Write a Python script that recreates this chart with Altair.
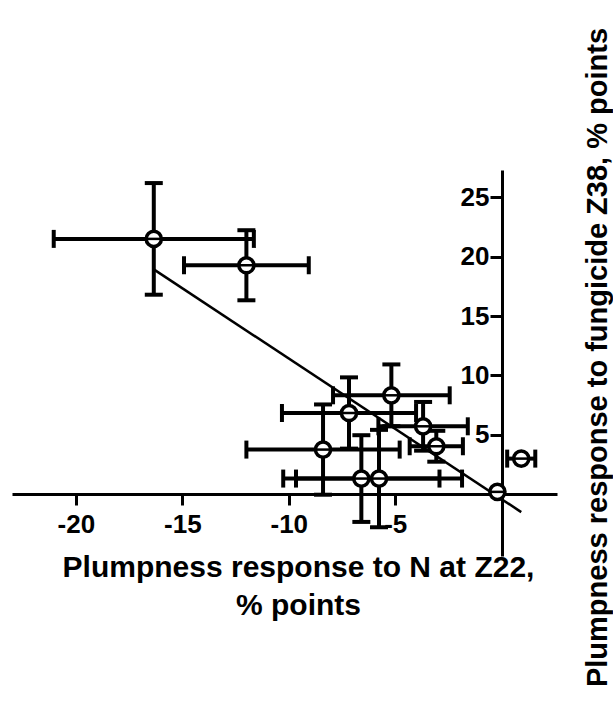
import altair as alt
import pandas as pd

# values
x_vals = [-16.34, -11.99, -5.18, -7.17, -3.69, -3.07, -8.39, -6.59, -5.76, -0.2, 0.92]
y_vals = [21.5, 19.28, 8.33, 6.84, 5.72, 4.04, 3.76, 1.32, 1.32, 0.2, 3.0]
x_err = [4.7, 2.93, 2.74, 3.15, 2.1, 1.25, 3.6, 3.67, 3.9, 0.0, 0.66]
y_err = [4.7, 2.95, 2.6, 3.0, 2.05, 1.3, 3.8, 3.65, 4.1, 0.0, 0.0]

x_ticks = [-20, -15, -10, -5]
y_ticks = [5, 10, 15, 20, 25]
x_title = ["Plumpness response to N at Z22,", "% points"]
y_title = "Plumpness response to fungicide Z38, % points"

df = pd.DataFrame({"x": x_vals, "y": y_vals, "ex": x_err, "ey": y_err})
df["x_lo"] = df["x"] - df["ex"]
df["x_hi"] = df["x"] + df["ex"]
df["y_lo"] = df["y"] - df["ey"]
df["y_hi"] = df["y"] + df["ey"]

FONT = "Liberation Sans"
xs = alt.Scale(domain=[-23, 2.6], nice=False, zero=False)
ys = alt.Scale(domain=[-5.2, 27.3], nice=False, zero=False)

x_axis = alt.Axis(
    orient="bottom", offset=-62, values=x_ticks, title=x_title,
    labelExpr="datum.value + ''",
    titleX=286, titleY=82, titleAlign="center", titleBaseline="alphabetic",
    titleFontSize=30, titleFontWeight="bold", titleFont=FONT, titleLineHeight=38,
    titleColor="black",
    labelPadding=6, tickSize=11, labelFontSize=26, labelFontWeight="bold",
    labelFont=FONT, labelColor="black", grid=False,
    domainWidth=3, domainColor="black", tickWidth=3, tickColor="black",
)
y_axis = alt.Axis(
    orient="left", offset=-490, values=y_ticks, title=y_title,
    labelExpr="datum.value + ''",
    titleAngle=270, titleX=95, titleY=187, titleAlign="center", titleBaseline="middle",
    titleFontSize=29, titleFontWeight="bold", titleFont=FONT, titleColor="black",
    labelPadding=1, tickSize=12, labelFontSize=26, labelFontWeight="bold",
    labelFont=FONT, labelColor="black", grid=False,
    domainWidth=3, domainColor="black", tickWidth=3, tickColor="black",
)

def X(field):
    return alt.X(f"{field}:Q", scale=xs, axis=x_axis, title=x_title)

def Y(field):
    return alt.Y(f"{field}:Q", scale=ys, axis=y_axis, title=y_title)

base = alt.Chart(df)

reg = base.transform_regression("x", "y").mark_line(color="black", strokeWidth=2.5).encode(
    x=X("x"), y=Y("y"),
)

hbar = base.transform_filter("datum.ex > 0").mark_rule(color="black", strokeWidth=4).encode(
    x=X("x_lo"), x2="x_hi:Q", y=Y("y"),
)
vbar = base.transform_filter("datum.ey > 0").mark_rule(color="black", strokeWidth=4).encode(
    x=X("x"), y=Y("y_lo"), y2="y_hi:Q",
)

def hcap(field):
    return base.transform_filter("datum.ex > 0").mark_tick(
        orient="vertical", size=18, thickness=4, color="black", opacity=1
    ).encode(x=X(field), y=Y("y"))

def vcap(field):
    return base.transform_filter("datum.ey > 0").mark_tick(
        orient="horizontal", size=18, thickness=4, color="black", opacity=1
    ).encode(x=X("x"), y=Y(field))

pts = base.mark_circle(size=230, fill="white", stroke="black", strokeWidth=3.5, opacity=1).encode(
    x=X("x"), y=Y("y"),
)
inner = base.mark_tick(orient="horizontal", size=13, thickness=2.5, color="black", opacity=1).encode(
    x=X("x"), y=Y("y"),
)

chart = alt.layer(
    reg, hbar, vbar,
    hcap("x_lo"), hcap("x_hi"), vcap("y_lo"), vcap("y_hi"),
    pts, inner,
).properties(
    width=545, height=386,
    autosize=alt.AutoSizeParams(type="none"),
    padding={"left": 12, "top": 170, "right": 56, "bottom": 147},
    background="white",
).configure_view(stroke=None)

chart.save("out.html", embed_options={"renderer": "svg", "actions": False})
